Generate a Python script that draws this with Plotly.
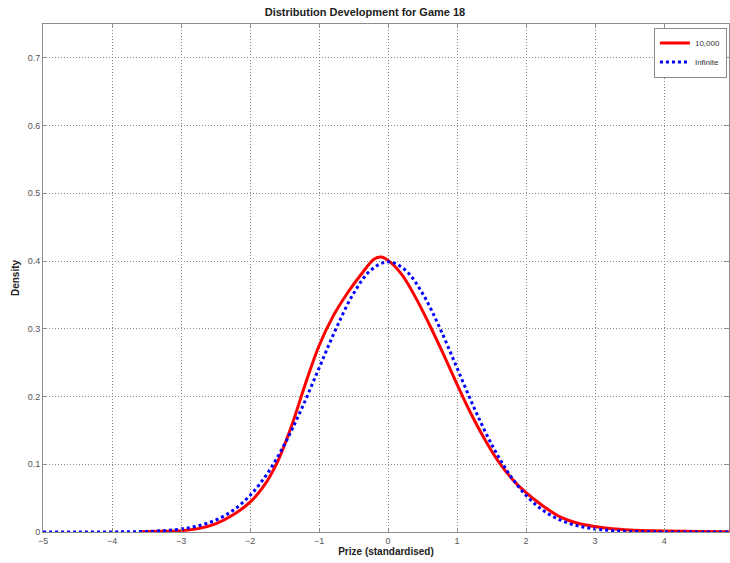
import plotly.graph_objects as go

# Simulated prize distribution after 10,000 draws
x_sim = [-3.6, -3.3, -3.0, -2.75, -2.5, -2.25, -2.0, -1.8, -1.6, -1.4, -1.2,
         -1.0, -0.8, -0.6, -0.4, -0.2, -0.1, 0.0, 0.2, 0.4, 0.6, 0.8, 1.0,
         1.2, 1.4, 1.6, 1.8, 2.0, 2.25, 2.5, 2.75, 3.0, 3.25, 3.5, 3.75, 4.0,
         4.5, 4.94]
d_sim = [0.0005, 0.001, 0.002, 0.005, 0.012, 0.025, 0.044, 0.068, 0.104, 0.156,
         0.218, 0.275, 0.318, 0.351, 0.379, 0.403, 0.406, 0.401, 0.380, 0.346,
         0.306, 0.263, 0.218, 0.175, 0.137, 0.104, 0.078, 0.058, 0.038, 0.022,
         0.013, 0.008, 0.0048, 0.003, 0.002, 0.0014, 0.0007, 0.0004]

# Limiting (infinite draws) distribution
x_inf = [-5.0, -4.5, -4.0, -3.75, -3.5, -3.25, -3.0, -2.75, -2.5, -2.25, -2.0,
         -1.75, -1.5, -1.25, -1.0, -0.75, -0.5, -0.25, 0.0, 0.25, 0.5, 0.75,
         1.0, 1.25, 1.5, 1.75, 2.0, 2.25, 2.5, 2.75, 3.0, 3.25, 3.5, 3.75,
         4.0, 4.5, 4.94]
d_inf = [0.0000015, 0.000016, 0.000134, 0.00035, 0.00087, 0.00203, 0.00443,
         0.00909, 0.0175, 0.0317, 0.054, 0.0863, 0.1295, 0.1826, 0.242, 0.3011,
         0.3521, 0.3867, 0.3989, 0.3867, 0.3521, 0.3011, 0.242, 0.1826, 0.1295,
         0.0863, 0.054, 0.0317, 0.0175, 0.00909, 0.00443, 0.00203, 0.00087,
         0.00035, 0.000134, 0.000016, 0.0000022]

x_ticks = [-5, -4, -3, -2, -1, 0, 1, 2, 3, 4]
y_ticks = [0, 0.1, 0.2, 0.3, 0.4, 0.5, 0.6, 0.7]

fig = go.Figure()
fig.add_trace(go.Scatter(x=x_sim, y=d_sim, mode="lines", name="10,000",
                         line=dict(color="#ff0000", width=3, shape="spline")))
fig.add_trace(go.Scatter(x=x_inf, y=d_inf, mode="lines", name="Infinite",
                         line=dict(color="#0000ff", width=3, dash="dot", shape="spline")))

axis_common = dict(
    showline=True, linecolor="#8c8c8c", linewidth=1, mirror="allticks",
    ticks="inside", ticklen=4, tickcolor="#8c8c8c",
    showgrid=True, gridcolor="#8a8a8a", gridwidth=1, griddash="1px,2px",
    zeroline=False, tickfont=dict(size=9, color="#555555"),
)

fig.update_layout(
    width=730, height=563,
    margin=dict(l=43, r=1, t=24, b=31),
    paper_bgcolor="white", plot_bgcolor="white",
    font=dict(family="Liberation Sans, Arial, sans-serif"),
    title=dict(text="<b>Distribution Development for Game 18</b>",
               x=0.5, xanchor="center", y=0.978, yanchor="middle",
               font=dict(size=11, color="#222222")),
    xaxis=dict(range=[-5, 4.94], tickvals=x_ticks,
               title=dict(text="<b>Prize (standardised)</b>", standoff=2,
                          font=dict(size=10, color="#222222")),
               **axis_common),
    yaxis=dict(range=[0, 0.75], tickvals=y_ticks,
               ticktext=["0", "0.1", "0.2", "0.3", "0.4", "0.5", "0.6", "0.7"],
               title=dict(text="<b>Density</b>", standoff=6,
                          font=dict(size=10, color="#222222")),
               **axis_common),
    legend=dict(x=0.997, y=0.993, xanchor="right", yanchor="top",
                bgcolor="white", bordercolor="#8c8c8c", borderwidth=1,
                font=dict(size=8, color="#333333"),
                tracegroupgap=0, itemwidth=30),
    showlegend=True,
)

fig.write_html("out.html")
